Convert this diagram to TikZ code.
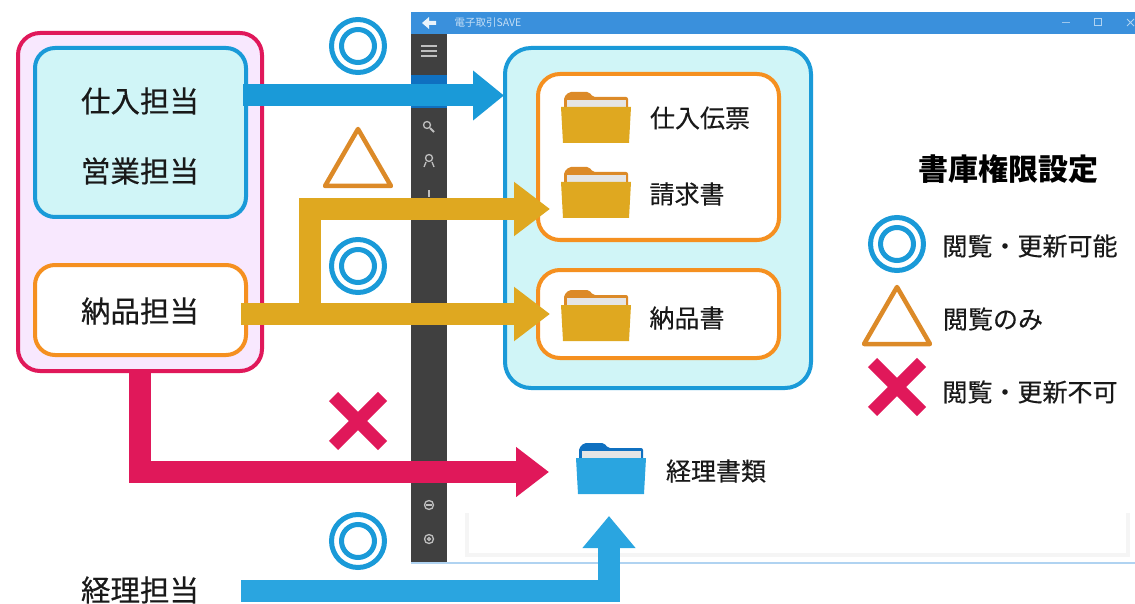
\documentclass[tikz,border=0pt]{standalone}
\usepackage{fontspec}
\setmainfont{Noto Sans CJK JP}
\newfontfamily\jplabel[FakeBold=0.35]{Noto Sans CJK JP}
\usetikzlibrary{arrows.meta,calc}
\definecolor{roleblue}{HTML}{1A9AD8}
\definecolor{rolecyan}{HTML}{D0F5F7}
\definecolor{roleorange}{HTML}{F59020}
\definecolor{rolered}{HTML}{E0185A}
\definecolor{rolepink}{HTML}{F8E8FE}
\definecolor{folderbody}{HTML}{DFA820}
\definecolor{foldertab}{HTML}{DC8A28}
\definecolor{foldersky}{HTML}{2AA5E0}
\definecolor{folderdeep}{HTML}{0F70C0}
\definecolor{barblue}{HTML}{3A90DC}
\definecolor{sidegray}{HTML}{404040}
\tikzset{
	x=1pt, y=-1pt,
	box/.style={draw, rounded corners=#1, line width=4pt},
	label/.style={text=black!90, font=\jplabel\fontsize{25}{25}\selectfont, inner sep=0pt},
	rolelabel/.style={text=black!90, font=\jplabel\fontsize{29.5}{29.5}\selectfont, inner sep=0pt},
	fatarrow/.style 2 args={line width=22pt, -{Triangle[length=#1, width=#2]}},
	sideicon/.style={draw=white!75!black, line width=1.3pt},
}
% double circle, triangle and cross, given their middle
\def\okmark(#1,#2){\draw[roleblue, line width=5pt] (#1,#2) circle (26.5); \draw[roleblue, line width=5pt] (#1,#2) circle (16.5);}
\def\viewmark(#1,#2){\draw[foldertab, line width=4.5pt, line join=round] (#1-33,#2+28) -- (#1,#2-29) -- (#1+33,#2+28) -- cycle;}
\def\ngmark(#1,#2){\draw[rolered, line width=13pt] (#1-24.5,#2-24.5) -- (#1+24.5,#2+24.5) (#1-24.5,#2+24.5) -- (#1+24.5,#2-24.5);}
% folder, given left and top of the tab row
\def\folder(#1,#2)#3#4{
	\fill[#4, rounded corners=2pt] (#1+3,#2+20) -- (#1+3,#2+5) -- (#1+8,#2) -- (#1+28,#2) -- (#1+32,#2+5) -- (#1+67,#2+5) -- (#1+67,#2+20) -- cycle;
	\fill[black!10] (#1+6,#2+8) rectangle (#1+65,#2+18);
	\fill[#3] (#1,#2+15) -- (#1+70,#2+15) -- (#1+68,#2+51) -- (#1+2,#2+51) -- cycle;
}

\begin{document}
\begin{tikzpicture}
	%%%%% START %%%%%
	\useasboundingbox (0,0) rectangle (1135,604);
	
	% window behind everything
	\fill[barblue] (411,12) rectangle (1135,34);
	\fill[sidegray] (411,34) rectangle (447,563);
	\fill[folderdeep] (411,75) rectangle (447,108);
	\draw[barblue!40, line width=1.5pt] (411,563) -- (1135,563);
	\draw[black!4, line width=4pt] (467,513) -- (467,555) -- (1128,555) -- (1128,513);
	\fill[white!90!barblue] (422,23) -- (429,17) -- (429,21) -- (436,21) -- (436,25) -- (429,25) -- (429,29) -- cycle;
	\node[text=white!70!barblue, font=\fontsize{10.5}{10.5}\selectfont, inner sep=0pt] (wintitle) at (488,23) {電子取引SAVE};
	\draw[white!50!barblue, line width=1pt] (1062,22.5) -- (1070,22.5);
	\draw[white!60!barblue, line width=1pt] (1094,19) rectangle (1101,26);
	\draw[white!60!barblue, line width=1pt] (1127,19) -- (1134,26) (1127,26) -- (1134,19);
	
	\draw[sideicon, line width=1.6pt] (421,46) -- (437,46) (421,51) -- (437,51) (421,56) -- (437,56);
	\draw[sideicon] (427,125) circle (3.5);
	\draw[sideicon, line width=2pt] (430,128) -- (434,132);
	\draw[sideicon] (429,158) circle (3.5);
	\draw[sideicon] (424,167) -- (426,162) (434,167) -- (432,162);
	\draw[sideicon] (429,190) -- (429,197);
	\draw[sideicon] (429,505) circle (4.5);
	\draw[sideicon] (426,505) -- (432,505);
	\draw[sideicon] (429,539) circle (4.5);
	\draw[sideicon] (429,539) circle (1.5);
	
	% roles on the left
	\draw[box=22pt, rolered, fill=rolepink] (18,33) rectangle (262,371);
	\draw[box=20pt, roleblue, fill=rolecyan] (35,48) rectangle (246,217);
	\draw[box=20pt, roleorange, fill=white] (35,265) rectangle (246,355);
	\node[rolelabel] (shiire) at (140,101) {仕入担当};
	\node[rolelabel] (eigyo) at (140,171) {営業担当};
	\node[rolelabel] (nouhin) at (140,311) {納品担当};
	\node[rolelabel] (keiri) at (140,590) {経理担当};
	
	% shelves on the right
	\draw[box=26pt, roleblue, fill=rolecyan] (505,48) rectangle (811,388);
	\draw[box=22pt, roleorange, fill=white] (538,74) rectangle (779,240);
	\draw[box=22pt, roleorange, fill=white] (538,270) rectangle (779,358);
	
	\folder(561,92){folderbody}{foldertab}
	\folder(561,167){folderbody}{foldertab}
	\folder(561,290){folderbody}{foldertab}
	\folder(576,443){foldersky}{folderdeep}
	
	\node[label] (denpyo) at (700,118) {仕入伝票};
	\node[label] (seikyu) at (687,194) {請求書};
	\node[label] (nouhinsho) at (687,318) {納品書};
	\node[label] (keirisho) at (716,471) {経理書類};
	
	% arrows
	\coordinate (shiire out) at (243,95.5);
	\coordinate (shiire in) at (504,95.5);
	\coordinate (nouhin out) at (241,314);
	\coordinate (nouhin in) at (550,314);
	\coordinate (seikyu in) at (550,209);
	\coordinate (nouhin fork) at (310,314);
	\coordinate (ng out) at (140,371);
	\coordinate (ng in) at (549,472);
	\coordinate (keiri out) at (241,591);
	\coordinate (keiri in) at (609,516);
	
	\draw[fatarrow={31pt}{48pt}, roleblue] (shiire out) -- (shiire in);
	\draw[fatarrow={36pt}{52pt}, folderbody] (nouhin fork) -- (nouhin fork |- seikyu in) -- (seikyu in);
	\draw[fatarrow={36pt}{52pt}, folderbody] (nouhin out) -- (nouhin in);
	\draw[fatarrow={33pt}{48pt}, rolered] (ng out) -- (ng out |- ng in) -- (ng in);
	\draw[fatarrow={32pt}{51pt}, foldersky] (keiri out) -- (keiri in |- keiri out) -- (keiri in);
	
	% marks on the arrows
	\okmark(358,46)
	\viewmark(358,158)
	\okmark(358,266)
	\ngmark(358,421)
	\okmark(358,541)
	
	% legend
	\node[text=black, font=\fontsize{30}{30}\selectfont\bfseries, inner sep=0pt] (legendhead) at (1008,169) {書庫権限設定};
	\okmark(897,244)
	\viewmark(897,316)
	\ngmark(897,387)
	\node[label] (legendok) at (1030,246) {閲覧・更新可能};
	\node[label] (legendview) at (993,319) {閲覧のみ};
	\node[label] (legendng) at (1030,392) {閲覧・更新不可};
	
	%%%%% END %%%%%
\end{tikzpicture}
\end{document}
